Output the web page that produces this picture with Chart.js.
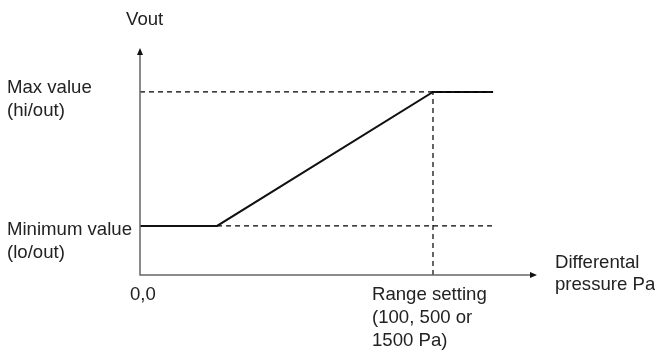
<!doctype html>
<html lang="en">
<head>
<meta charset="utf-8">
<script src="https://cdn.jsdelivr.net/npm/chart.js"></script>
<style>
    html, body { margin: 0; padding: 0; background: #fff; }
    #wrap { width: 655px; height: 356px; }
</style>
</head>
<body>
<div id="wrap"><canvas id="chart"></canvas></div>
<script>
    // output curve, range setting = 100
    const curveX = [0, 26.3, 100, 120.5];
    const curveY = [26.8, 26.8, 100, 100];
    // helper dashed lines
    const maxLineX = [0, 120.5];
    const maxLineY = [100, 100];
    const minLineX = [26.3, 120.5];
    const minLineY = [26.8, 26.8];
    const rangeLineX = [100, 100];
    const rangeLineY = [0, 100];
    // axis ends (arrow tips)
    const xAxisMax = 135.5;
    const yAxisMax = 124;

    const yLabel = 'Vout';
    const xLabel = ['Differental', 'pressure Pa'];
    const maxLabel = ['Max value', '(hi/out)'];
    const minLabel = ['Minimum value', '(lo/out)'];
    const originLabel = '0,0';
    const rangeLabel = ['Range setting', '(100, 500 or', '1500 Pa)'];

    const pts = (xs, ys) => xs.map((x, i) => ({ x: x, y: ys[i] }));

    const dashed = {
        borderColor: '#000',
        borderWidth: 1.2,
        borderDash: [5, 4],
        pointRadius: 0,
        fill: false
    };

    const axesPlugin = {
        id: 'axesPlugin',
        afterDraw(chart) {
            const ctx = chart.ctx;
            const xs = chart.scales.x, ys = chart.scales.y;
            const x0 = xs.getPixelForValue(0), y0 = ys.getPixelForValue(0);
            const xEnd = xs.getPixelForValue(xAxisMax), yEnd = ys.getPixelForValue(yAxisMax);
            ctx.save();
            ctx.strokeStyle = '#666';
            ctx.lineWidth = 1.5;
            ctx.beginPath();
            ctx.moveTo(x0, yEnd + 4);
            ctx.lineTo(x0, y0);
            ctx.lineTo(xEnd - 4, y0);
            ctx.stroke();
            // arrow heads
            ctx.fillStyle = '#111';
            ctx.beginPath();
            ctx.moveTo(x0, yEnd);
            ctx.lineTo(x0 - 3, yEnd + 7);
            ctx.lineTo(x0 + 3, yEnd + 7);
            ctx.closePath();
            ctx.fill();
            ctx.beginPath();
            ctx.moveTo(xEnd, y0);
            ctx.lineTo(xEnd - 7, y0 - 3);
            ctx.lineTo(xEnd - 7, y0 + 3);
            ctx.closePath();
            ctx.fill();

            // texts
            ctx.fillStyle = '#222';
            ctx.font = '18.6px "Liberation Sans", Arial, sans-serif';
            ctx.textAlign = 'left';
            ctx.textBaseline = 'alphabetic';
            const lines = (arr, x, y, lh) => arr.forEach((t, i) => ctx.fillText(t, x, y + i * lh));
            const yMax = ys.getPixelForValue(100), yMin = ys.getPixelForValue(curveY[0]);
            const xRange = xs.getPixelForValue(100);
            ctx.fillText(yLabel, x0 - 14, yEnd - 23);
            lines(maxLabel, 7, yMax + 1, 23);
            lines(minLabel, 7, yMin + 9, 23);
            ctx.fillText(originLabel, x0 - 10, y0 + 25);
            lines(rangeLabel, xRange - 61, y0 + 25, 23);
            lines(xLabel, xEnd + 18, y0 - 7, 22);
            ctx.restore();
        }
    };

    new Chart(document.getElementById('chart'), {
        type: 'scatter',
        data: {
            datasets: [
                Object.assign({ data: pts(maxLineX, maxLineY) }, dashed),
                Object.assign({ data: pts(minLineX, minLineY) }, dashed),
                Object.assign({ data: pts(rangeLineX, rangeLineY) }, dashed),
                {
                    data: pts(curveX, curveY),
                    borderColor: '#111',
                    borderWidth: 2,
                    pointRadius: 0,
                    fill: false
                }
            ]
        },
        options: {
            responsive: true,
            maintainAspectRatio: false,
            animation: false,
            showLine: true,
            layout: { padding: { left: 140, right: 118, top: 48, bottom: 81 } },
            scales: {
                x: { type: 'linear', min: 0, max: xAxisMax, display: false },
                y: { type: 'linear', min: 0, max: yAxisMax, display: false }
            },
            plugins: {
                legend: { display: false },
                tooltip: { enabled: false }
            }
        },
        plugins: [axesPlugin]
    });
</script>
</body>
</html>
